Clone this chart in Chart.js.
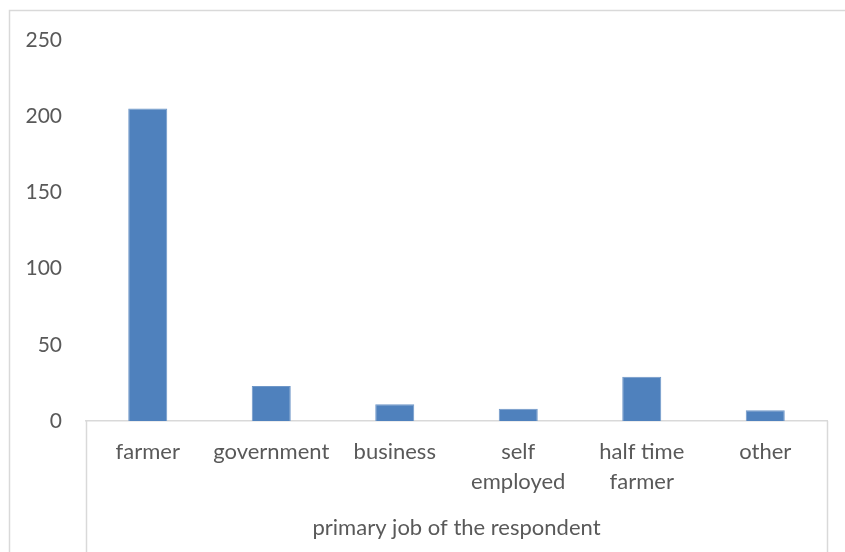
<!DOCTYPE html>
<html>
<head>
<meta charset="utf-8">
<script src="https://cdn.jsdelivr.net/npm/chart.js@4/dist/chart.umd.min.js"></script>
<style>
  html, body { margin: 0; padding: 0; background: #fff; }
  #wrap { width: 845px; height: 552px; }
</style>
</head>
<body>
<div id="wrap"><canvas id="jobChart" width="845" height="552"></canvas></div>
<script>
// primary job counts
const jobLabels = ["farmer", "government", "business", ["self", "employed"], ["half time", "farmer"], "other"];
const jobCounts = [205, 23, 11, 8, 29, 7];
const yTicks = [0, 50, 100, 150, 200, 250];

const textColor = "#595959";
const lineColor = "#d9d9d9";
const fontFamily = "Lato, 'Open Sans', sans-serif";

// outer frame plus the category box lines under the x axis
const framePlugin = {
  id: "frame",
  beforeDraw(chart) {
    const ctx = chart.ctx;
    const area = chart.chartArea;
    ctx.save();
    ctx.strokeStyle = lineColor;
    ctx.lineWidth = 1.5;
    ctx.strokeRect(9.5, 10.5, 900, 600);
    ctx.beginPath();
    ctx.moveTo(area.left + 0.5, area.bottom);
    ctx.lineTo(area.left + 0.5, chart.height);
    ctx.moveTo(area.right + 0.5, area.bottom);
    ctx.lineTo(area.right + 0.5, chart.height);
    ctx.stroke();
    ctx.restore();
  }
};

new Chart(document.getElementById("jobChart"), {
  type: "bar",
  data: {
    labels: jobLabels,
    datasets: [{
      label: "primary job",
      data: jobCounts,
      backgroundColor: "#4f81bd",
      borderColor: "#6f97c8",
      borderWidth: 1,
      categoryPercentage: 1,
      barPercentage: 0.316
    }]
  },
  options: {
    responsive: false,
    animation: false,
    layout: { padding: { top: 40, right: 18, left: 0, bottom: 0 } },
    plugins: {
      legend: { display: false },
      tooltip: { enabled: false }
    },
    scales: {
      x: {
        grid: { display: false },
        border: { display: true, color: lineColor, width: 1.5 },
        ticks: {
          color: textColor,
          font: { family: fontFamily, size: 22, lineHeight: 1.36 },
          padding: 8,
          maxRotation: 0,
          autoSkip: false
        },
        title: {
          display: true,
          text: "primary job of the respondent",
          color: textColor,
          font: { family: fontFamily, size: 22 },
          padding: { top: 0, bottom: 11 }
        },
        afterFit(scale) { scale.height = 131; }
      },
      y: {
        min: 0,
        max: 250,
        grid: { display: false },
        border: { display: false },
        afterBuildTicks(scale) { scale.ticks = yTicks.map(v => ({ value: v })); },
        ticks: {
          color: textColor,
          font: { family: fontFamily, size: 21 },
          padding: 16
        },
        afterFit(scale) { scale.width = 86; }
      }
    }
  },
  plugins: [framePlugin]
});
</script>
</body>
</html>
